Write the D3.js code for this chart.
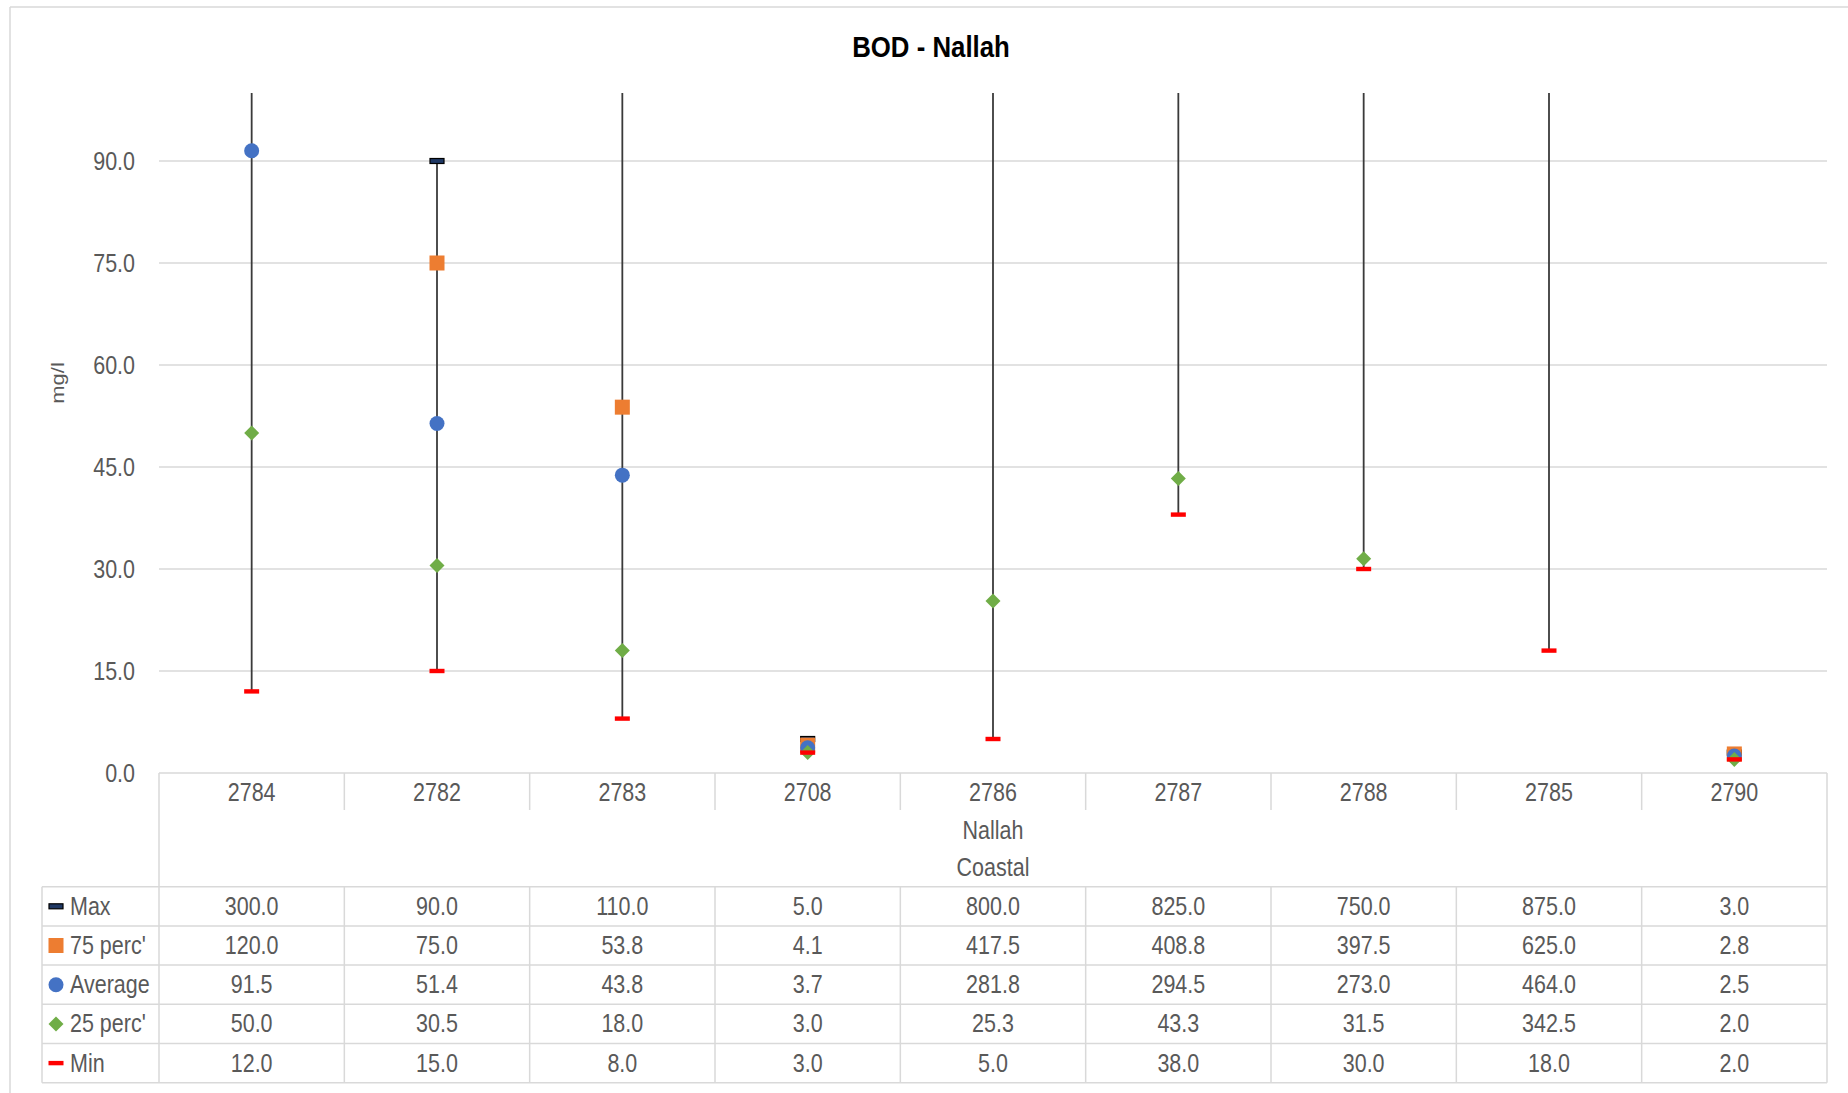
<!DOCTYPE html>
<html>
<head>
<meta charset="utf-8">
<script src="https://cdn.jsdelivr.net/npm/d3@7"></script>
<style>
  html, body { margin: 0; padding: 0; background: #fff; }
  svg { display: block; }
  text { font-family: "Liberation Sans", Arial, sans-serif; }
</style>
</head>
<body>
<svg id="chart" width="1848" height="1093"></svg>
<script>
// ---------- data ----------
const categories = ["2784", "2782", "2783", "2708", "2786", "2787", "2788", "2785", "2790"];
const groupLabels = ["Nallah", "Coastal"];
const seriesNames = ["Max", "75 perc'", "Average", "25 perc'", "Min"];
const maxValues = [300.0, 90.0, 110.0, 5.0, 800.0, 825.0, 750.0, 875.0, 3.0];
const p75Values = [120.0, 75.0, 53.8, 4.1, 417.5, 408.8, 397.5, 625.0, 2.8];
const avgValues = [91.5, 51.4, 43.8, 3.7, 281.8, 294.5, 273.0, 464.0, 2.5];
const p25Values = [50.0, 30.5, 18.0, 3.0, 25.3, 43.3, 31.5, 342.5, 2.0];
const minValues = [12.0, 15.0, 8.0, 3.0, 5.0, 38.0, 30.0, 18.0, 2.0];
const yTicks = [0, 15, 30, 45, 60, 75, 90];
const titleText = "BOD - Nallah";
const yTitle = "mg/l";

// ---------- layout ----------
const plotLeft = 159, plotRight = 1827, plotTop = 93, plotBottom = 773;
const tableLeft = 42;
const catRowBottom = 810;
const rowsTop = 886.7, rowH = 39.2;
const SX = 0.86; // horizontal text compression
const textColor = "#595959";
const gridColor = "#d9d9d9";
const fs = 25;

const svg = d3.select("#chart");
const x = d3.scaleBand().domain(categories).range([plotLeft, plotRight]);
const y = d3.scaleLinear().domain([0, 100]).range([plotBottom, plotTop]);
const cx = c => x(c) + x.bandwidth() / 2;

function label(g, px, py, str, opts = {}) {
  return g.append("text")
    .attr("transform", `translate(${px},${py}) scale(${SX},1)`)
    .attr("text-anchor", opts.anchor || "middle")
    .attr("dominant-baseline", "central")
    .attr("font-size", opts.size || fs)
    .attr("font-weight", opts.weight || "normal")
    .attr("fill", opts.color || textColor)
    .text(str);
}

// outer chart border (top and left visible)
svg.append("line").attr("x1", 10).attr("x2", 1848).attr("y1", 7).attr("y2", 7)
  .attr("stroke", gridColor).attr("stroke-width", 1.5);
svg.append("line").attr("x1", 10).attr("x2", 10).attr("y1", 7).attr("y2", 1093)
  .attr("stroke", gridColor).attr("stroke-width", 1.5);

// title
label(svg, 931, 47, titleText, { size: 30, weight: "bold", color: "#000" });

// gridlines
const grid = svg.append("g");
grid.selectAll("line").data(yTicks.filter(t => t > 0)).join("line")
  .attr("x1", plotLeft).attr("x2", plotRight)
  .attr("y1", d => y(d)).attr("y2", d => y(d))
  .attr("stroke", gridColor).attr("stroke-width", 1.5);

// y tick labels
const yl = svg.append("g");
yTicks.forEach(t => label(yl, 135, y(t), d3.format(".1f")(t), { anchor: "end" }));

// y title
svg.append("text")
  .attr("transform", `translate(57,${(plotTop + plotBottom) / 2 - 50}) rotate(-90) scale(1,${SX})`)
  .attr("text-anchor", "middle").attr("dominant-baseline", "central")
  .attr("font-size", 22).attr("fill", textColor).text(yTitle);

// ---------- table ----------
const tbl = svg.append("g").attr("stroke", gridColor).attr("stroke-width", 1.5);
tbl.append("line").attr("x1", plotLeft).attr("x2", plotRight).attr("y1", plotBottom).attr("y2", plotBottom);
categories.slice(1).forEach(c => {
  tbl.append("line").attr("x1", x(c)).attr("x2", x(c)).attr("y1", plotBottom).attr("y2", catRowBottom);
});
tbl.append("line").attr("x1", plotLeft).attr("x2", plotLeft).attr("y1", plotBottom).attr("y2", rowsTop + rowH * 5);
tbl.append("line").attr("x1", plotRight).attr("x2", plotRight).attr("y1", plotBottom).attr("y2", rowsTop + rowH * 5);
for (let i = 0; i <= seriesNames.length; i++) {
  tbl.append("line").attr("x1", tableLeft).attr("x2", plotRight)
    .attr("y1", rowsTop + rowH * i).attr("y2", rowsTop + rowH * i);
}
tbl.append("line").attr("x1", tableLeft).attr("x2", tableLeft).attr("y1", rowsTop).attr("y2", rowsTop + rowH * 5);
categories.slice(1).forEach(c => {
  tbl.append("line").attr("x1", x(c)).attr("x2", x(c)).attr("y1", rowsTop).attr("y2", rowsTop + rowH * 5);
});

// category labels
const tl = svg.append("g");
categories.forEach(c => label(tl, cx(c), 792, c));
label(tl, (plotLeft + plotRight) / 2, 830, groupLabels[0]);
label(tl, (plotLeft + plotRight) / 2, 867, groupLabels[1]);

// table values
const seriesValues = [maxValues, p75Values, avgValues, p25Values, minValues];
seriesValues.forEach((vals, i) => {
  const ry = rowsTop + rowH * (i + 0.5);
  vals.forEach((v, j) => label(tl, cx(categories[j]), ry, v.toFixed(1)));
  label(tl, 70, ry, seriesNames[i], { anchor: "start" });
});

// ---------- marker drawers ----------
function drawMax(g, px, py) {
  g.append("rect").attr("x", px - 7).attr("y", py - 2.5).attr("width", 14).attr("height", 5)
    .attr("fill", "#1f3864").attr("stroke", "#000").attr("stroke-width", 1.2);
}
function drawSquare(g, px, py) {
  g.append("rect").attr("x", px - 7.5).attr("y", py - 7.5).attr("width", 15).attr("height", 15)
    .attr("fill", "#ED7D31");
}
function drawCircle(g, px, py) {
  g.append("circle").attr("cx", px).attr("cy", py).attr("r", 7.5).attr("fill", "#4472C4");
}
function drawDiamond(g, px, py) {
  const s = 7.5;
  g.append("path").attr("d", `M${px},${py - s}L${px + s},${py}L${px},${py + s}L${px - s},${py}Z`)
    .attr("fill", "#70AD47");
}
function drawMin(g, px, py) {
  g.append("rect").attr("x", px - 7.5).attr("y", py - 2.2).attr("width", 15).attr("height", 4.4)
    .attr("fill", "#FF0000");
}
const drawers = [drawMax, drawSquare, drawCircle, drawDiamond, drawMin];

// legend keys
const lg = svg.append("g");
drawers.forEach((fn, i) => fn(lg, 56, rowsTop + rowH * (i + 0.5)));

// ---------- plot ----------
svg.append("defs").append("clipPath").attr("id", "plotClip")
  .append("rect").attr("x", plotLeft).attr("y", plotTop).attr("width", plotRight - plotLeft).attr("height", plotBottom - plotTop + 10);

const plot = svg.append("g").attr("clip-path", "url(#plotClip)");
categories.forEach((c, j) => {
  plot.append("line").attr("x1", cx(c)).attr("x2", cx(c))
    .attr("y1", y(minValues[j])).attr("y2", y(maxValues[j]))
    .attr("stroke", "#3a3a3a").attr("stroke-width", 1.8);
});
seriesValues.forEach((vals, i) => {
  const g = plot.append("g");
  vals.forEach((v, j) => drawers[i](g, cx(categories[j]), y(v)));
});
</script>
</body>
</html>
